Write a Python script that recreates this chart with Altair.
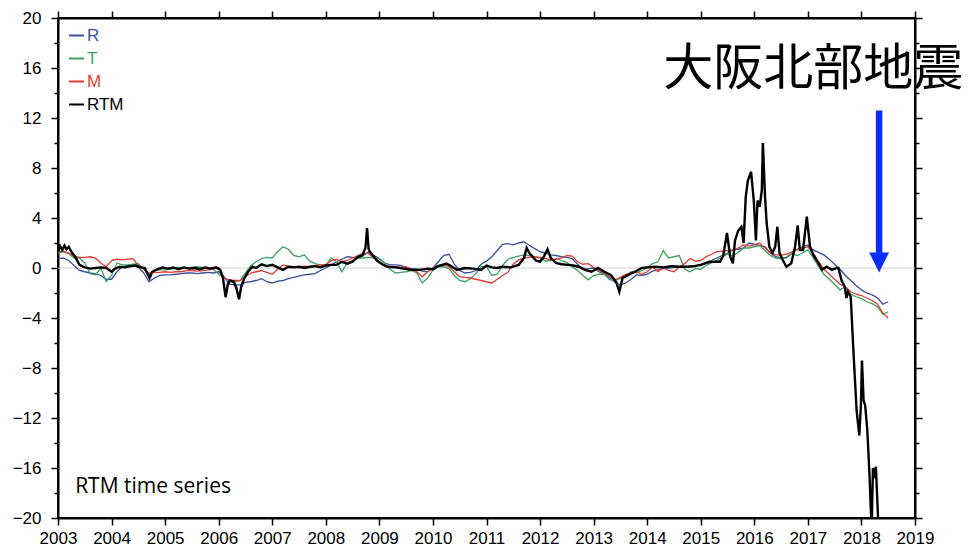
import altair as alt
import pandas as pd

# ---- data -----------------------------------------------------------------
# R, T and M components sampled every 0.1 year from 2003.0 to 2018.5
grid = [round(2003 + 0.1 * i, 1) for i in range(156)]

r_vals = [
    0.75, 0.8, 0.6, 0.2, -0.2, -0.3, -0.4, -0.45, -0.6, -0.9,      # 2003
    -0.9, -0.3, 0.1, 0.2, 0.25, 0.05, -0.4, -1.1, -0.8, -0.6,       # 2004
    -0.55, -0.55, -0.5, -0.45, -0.4, -0.4, -0.45, -0.4, -0.35, -0.4,  # 2005
    -0.3, -0.7, -1.3, -1.35, -1.35, -1.15, -1.1, -1.0, -0.85, -1.1,   # 2006
    -1.2, -1.05, -1.0, -0.85, -0.75, -0.65, -0.55, -0.5, -0.45, -0.2,  # 2007
    0.0, 0.25, 0.5, 0.7, 0.9, 0.85, 0.75, 1.0, 1.3, 1.0,            # 2008
    0.75, 0.4, 0.25, 0.25, 0.2, 0.05, -0.05, -0.1, -0.25, -0.3,     # 2009
    0.0, 0.5, 1.0, 1.1, 0.3, -0.2, -0.4, -0.35, -0.2, 0.3,          # 2010
    0.55, 0.9, 1.4, 1.9, 1.95, 1.85, 2.0, 2.1, 1.8, 1.55,           # 2011
    1.3, 1.2, 1.05, 1.0, 0.9, 0.85, 0.75, 0.3, -0.1, -0.05,         # 2012
    0.0, -0.3, -0.5, -0.8, -1.15, -1.35, -1.2, -0.9, -0.55, -0.6,   # 2013
    -0.5, -0.25, -0.15, -0.05, 0.0, 0.05, 0.1, 0.1, 0.15, 0.2,      # 2014
    0.25, 0.45, 0.6, 0.8, 1.0, 1.2, 1.45, 1.5, 1.6, 2.0,            # 2015
    1.9, 1.8, 1.7, 1.2, 0.9, 0.8, 0.85, 1.2, 1.5, 1.7,              # 2016
    1.85, 1.45, 1.25, 1.05, 0.7, 0.3, -0.1, -0.6, -1.0, -1.4,       # 2017
    -1.75, -2.0, -2.15, -2.4, -2.9, -2.7,                           # 2018
]

t_vals = [
    1.2, 1.3, 1.15, 0.8, 0.8, 0.4, -0.45, -0.55, 0.0, -1.1,         # 2003
    -0.6, 0.4, 0.25, 0.25, 0.3, 0.35, -0.1, -0.55, -0.2, -0.15,     # 2004
    -0.15, -0.1, 0.0, 0.05, 0.0, 0.05, 0.1, 0.05, 0.0, -0.1,        # 2005
    -0.5, -0.8, -1.0, -1.1, -1.0, -0.4, 0.2, 0.5, 0.75, 0.85,       # 2006
    0.8, 1.3, 1.7, 1.5, 1.0, 0.9, 1.05, 0.55, 0.35, 0.25,           # 2007
    0.2, 0.8, 0.5, -0.3, 0.4, 0.6, 0.8, 0.8, 0.85, 0.8,             # 2008
    0.75, 0.35, -0.1, -0.4, -0.35, -0.3, -0.2, -0.4, -1.2, -0.8,    # 2009
    -0.15, 0.1, 0.1, -0.05, -0.6, -1.0, -1.1, -0.85, -0.45, 0.1,    # 2010
    0.1, -0.6, -0.5, 0.2, 0.7, 0.85, 0.95, 1.05, 1.0, 0.9,          # 2011
    0.8, 0.55, 0.6, 0.75, 0.6, 0.45, 0.1, -0.2, -0.6, -0.95,        # 2012
    -0.6, -0.5, -0.5, -0.95, -0.95, -0.85, -0.6, -0.3, -0.4, -0.2,  # 2013
    0.0, 0.35, 0.5, 1.4, 0.8, 0.9, 1.0, -0.1, -0.3, -0.05,          # 2014
    -0.1, 0.2, 0.4, 0.6, 0.9, 1.1, 0.95, 1.25, 1.6, 1.6,            # 2015
    1.7, 1.8, 1.4, 1.0, 0.8, 0.75, 0.8, 1.15, 1.0, 1.2,             # 2016
    1.45, 0.8, 0.1, -0.5, -0.9, -1.3, -1.75, -1.5, -2.1, -2.3,      # 2017
    -2.45, -2.7, -2.85, -3.1, -3.7, -3.5,                           # 2018
]

m_vals = [
    1.3, 1.35, 1.2, 0.95, 0.85, 0.85, 0.9, 0.8, 0.4, 0.1,           # 2003
    0.6, 0.7, 0.65, 0.7, 0.75, 0.2, -0.1, -0.4, -0.35, -0.35,       # 2004
    -0.3, -0.35, -0.3, -0.3, -0.2, -0.2, -0.25, -0.2, -0.15, -0.1,  # 2005
    0.05, -0.8, -0.95, -1.0, -1.0, -0.7, -0.4, -0.3, -0.2, -0.35,   # 2006
    -0.5, -0.1, 0.25, 0.15, 0.1, 0.1, 0.15, 0.1, 0.2, 0.25,         # 2007
    0.25, 0.6, 0.7, 0.5, 0.6, 0.8, 1.0, 1.2, 1.15, 0.8,             # 2008
    0.5, 0.2, 0.1, 0.1, 0.05, 0.1, -0.15, -0.3, -0.7, -0.3,         # 2009
    0.0, 0.2, 0.25, 0.1, -0.3, -0.7, -0.75, -0.8, -0.9, -1.0,       # 2010
    -1.1, -1.2, -0.9, -0.6, -0.35, 0.3, 0.65, 0.8, 0.85, 0.9,       # 2011
    0.85, 0.75, 0.65, 0.7, 0.8, 1.0, 0.95, 0.5, 0.3, 0.35,          # 2012
    0.05, -0.2, -0.4, -0.7, -0.95, -0.75, -0.5, -0.4, -0.3, -0.5,   # 2013
    -0.3, 0.1, -0.3, 0.0, -0.2, -0.3, 0.1, 0.35, 0.75, 0.55,        # 2014
    0.6, 0.9, 1.1, 1.3, 1.35, 1.4, 1.45, 1.6, 1.85, 1.75,           # 2015
    1.85, 2.0, 1.6, 1.2, 1.05, 1.05, 1.1, 1.3, 1.45, 1.6,           # 2016
    1.7, 1.2, 0.5, -0.1, -0.5, -0.9, -1.3, -1.5, -1.9, -2.1,        # 2017
    -2.2, -2.4, -2.6, -2.9, -3.6, -4.0,                             # 2018
]

# combined RTM index, sampled more densely around its spikes
rtm_years = [
    2003.0, 2003.04, 2003.08, 2003.12, 2003.16, 2003.2, 2003.25, 2003.32, 2003.4, 2003.5,
    2003.6, 2003.7, 2003.8, 2003.9, 2004.0, 2004.05, 2004.15, 2004.25, 2004.35, 2004.45,
    2004.55, 2004.62, 2004.67, 2004.71, 2004.76, 2004.85, 2004.95, 2005.05, 2005.15, 2005.25,
    2005.35, 2005.45, 2005.55, 2005.65, 2005.75, 2005.85, 2005.95, 2006.03, 2006.08, 2006.13,
    2006.17, 2006.21, 2006.28, 2006.33, 2006.38, 2006.42, 2006.48, 2006.55, 2006.63, 2006.7,
    2006.8, 2006.9, 2007.0, 2007.1, 2007.2, 2007.3, 2007.4, 2007.5, 2007.6, 2007.7,
    2007.8, 2007.9, 2008.0, 2008.1, 2008.2, 2008.3, 2008.4, 2008.5, 2008.6, 2008.68,
    2008.74, 2008.77, 2008.8, 2008.84, 2008.9, 2008.95, 2009.05, 2009.15, 2009.3, 2009.45,
    2009.6, 2009.75, 2009.9, 2010.0, 2010.1, 2010.25, 2010.32, 2010.45, 2010.6, 2010.75,
    2010.9, 2011.0, 2011.1, 2011.2, 2011.3, 2011.45, 2011.6, 2011.7, 2011.75, 2011.8,
    2011.86, 2011.92, 2012.0, 2012.07, 2012.14, 2012.2, 2012.3, 2012.4, 2012.52, 2012.62,
    2012.72, 2012.84, 2012.96, 2013.08, 2013.2, 2013.32, 2013.42, 2013.48, 2013.54, 2013.65,
    2013.77, 2013.9, 2014.0, 2014.15, 2014.3, 2014.45, 2014.6, 2014.75, 2014.9, 2015.0,
    2015.17, 2015.36, 2015.42, 2015.49, 2015.55, 2015.6, 2015.64, 2015.7, 2015.76, 2015.8,
    2015.84, 2015.88, 2015.94, 2015.99, 2016.03, 2016.06, 2016.1, 2016.14, 2016.16, 2016.2,
    2016.23, 2016.28, 2016.34, 2016.39, 2016.43, 2016.47, 2016.53, 2016.6, 2016.69, 2016.76,
    2016.81, 2016.85, 2016.91, 2016.98, 2017.04, 2017.1, 2017.2, 2017.26, 2017.35, 2017.45,
    2017.54, 2017.57, 2017.63, 2017.69, 2017.72, 2017.75, 2017.8, 2017.85, 2017.91, 2017.96,
    2017.99, 2018.01, 2018.04, 2018.07, 2018.11, 2018.15, 2018.19, 2018.215, 2018.24, 2018.27,
    2018.32, 2018.4, 2018.48,
]
rtm_vals = [
    1.3, 1.75, 1.45, 1.8, 1.5, 1.7, 1.3, 0.9, 0.25, 0.05,
    -0.05, 0.0, 0.05, 0.0, -0.3, -0.1, 0.1, 0.05, 0.15, 0.2,
    0.05, 0.0, -0.45, -0.8, -0.3, -0.1, 0.05, -0.05, 0.05, -0.1,
    0.05, -0.05, 0.0, -0.1, 0.05, -0.05, 0.05, -0.15, -0.8, -2.35,
    -1.3, -1.0, -1.1, -1.6, -2.5, -1.5, -0.8, -0.3, 0.1, 0.0,
    0.3, 0.15, 0.25, 0.05, -0.15, 0.1, 0.05, 0.1, 0.0, 0.1,
    0.15, 0.05, 0.2, 0.25, 0.25, 0.5, 0.35, 0.5, 0.9, 1.0,
    1.6, 3.2, 1.5, 1.2, 0.9, 0.6, 0.3, 0.1, 0.05, -0.05,
    -0.15, -0.15, -0.05, -0.1, 0.15, 0.35, 0.2, -0.15, 0.0, -0.05,
    -0.15, 0.2, 0.05, 0.0, 0.1, 0.05, 0.25, 0.8, 1.6, 1.2,
    0.9, 0.6, 0.5, 0.9, 1.5, 0.8, 0.4, 0.3, 0.25, 0.2,
    0.1, -0.15, -0.3, 0.0, -0.3, -0.55, -1.1, -1.9, -0.8, -0.55,
    -0.3, 0.0, 0.05, 0.1, 0.05, 0.15, 0.1, 0.1, 0.15, 0.25,
    0.5, 0.5, 1.0, 2.8, 0.9, 0.37, 2.2, 3.0, 3.3, 2.0,
    5.7, 7.0, 7.7, 5.4, 2.2, 5.4, 4.9, 6.2, 10.0, 5.7,
    3.6, 1.7, 1.2, 1.7, 3.3, 1.2, 0.64, 0.1, 0.37, 1.7,
    3.4, 1.44, 1.44, 4.1, 1.7, 1.04, 0.37, -0.15, 0.1, -0.15,
    0.0, 0.0, -1.0, -1.5, -2.4, -1.9, -2.3, -6.6, -11.4, -13.4,
    -11.0, -7.4, -10.6, -11.0, -13.0, -16.5, -21.0, -16.0, -16.8, -15.9,
    -21.0, -23.0, -24.0,
]

series_names = ["R", "T", "M", "RTM"]
series_colors = ["#3b4f9f", "#3aa35e", "#e33c37", "#000000"]

# earthquake marker (arrow) and caption
quake_label = "大阪北部地震"
quake_year = 2018.33
arrow_top = 12.6
arrow_base = 1.0
arrow_head = 0.45

panel_label = "RTM time series"

# ---- frames -----------------------------------------------------------------
comp_rows = []
for name, vals in (("R", r_vals), ("T", t_vals), ("M", m_vals)):
    for yr, v in zip(grid, vals):
        comp_rows.append({"year": yr, "value": v, "series": name})
comp_df = pd.DataFrame(comp_rows)
rtm_df = pd.DataFrame({"year": rtm_years, "value": rtm_vals, "series": "RTM"})
arrow_df = pd.DataFrame({"year": [quake_year], "top": [arrow_top], "base": [arrow_base], "head": [arrow_head]})
quake_df = pd.DataFrame({"year": [2017.1], "value": [15.84], "label": [quake_label]})
panel_df = pd.DataFrame({"year": [2003.32], "value": [-17.5], "label": [panel_label]})
zero_df = pd.DataFrame({"value": [0]})

# ---- scales and axes --------------------------------------------------------
x_scale = alt.Scale(domain=[2003, 2019], nice=False, zero=False)
y_scale = alt.Scale(domain=[-20, 20], nice=False, zero=False)
color_scale = alt.Scale(domain=series_names, range=series_colors)

x_ticks = [2003 + 0.5 * i for i in range(33)]
y_ticks = list(range(-20, 21, 2))
major_x = "datum.value % 1 === 0"
major_y = "datum.value % 4 === 0"

AXIS_FONT = "Liberation Sans"


def make_axis(orient, values, major, labels, pad):
    return alt.Axis(
        orient=orient,
        values=values,
        labels=labels,
        format="d",
        # typographic minus sign on negative labels
        labelExpr=f"{major} ? replace(datum.label, '-', '−') : ''",
        labelFlush=False,
        labelOverlap=False,
        labelFont=AXIS_FONT,
        labelFontSize=17,
        labelColor="black",
        labelPadding=pad,
        tickSize={"condition": {"test": major, "value": 7}, "value": 4},
        tickColor="black",
        tickWidth=1.5,
        domainColor="black",
        domainWidth=2,
        grid=False,
        title=None,
    )


legend = alt.Legend(
    title=None,
    orient="none",
    legendX=10,
    legendY=9,
    padding=0,
    symbolType="stroke",
    symbolSize=225,
    symbolStrokeWidth=2,
    labelFont=AXIS_FONT,
    labelFontSize=17,
    labelOffset=2,
    rowPadding=5,
    labelColor=alt.ExprRef("scale('color', datum.value)"),
)

# ---- layers -----------------------------------------------------------------
zero_line = alt.Chart(zero_df).mark_rule(color="#d0d0d0", strokeWidth=1).encode(
    y=alt.Y("value:Q", scale=y_scale, axis=None)
)

comp_lines = alt.Chart(comp_df).mark_line(strokeWidth=1.3, clip=True).encode(
    x=alt.X("year:Q", scale=x_scale, axis=make_axis("bottom", x_ticks, major_x, True, 5)),
    y=alt.Y("value:Q", scale=y_scale, axis=make_axis("left", y_ticks, major_y, True, 10)),
    color=alt.Color("series:N", scale=color_scale, legend=legend),
    detail="series:N",
)

rtm_line = alt.Chart(rtm_df).mark_line(strokeWidth=2.4, clip=True).encode(
    x=alt.X("year:Q", scale=x_scale, axis=None),
    y=alt.Y("value:Q", scale=y_scale, axis=None),
    color=alt.Color("series:N", scale=color_scale, legend=legend),
)

arrow_shaft = alt.Chart(arrow_df).mark_rule(color="#0a2dff", strokeWidth=6.5).encode(
    x=alt.X("year:Q", scale=x_scale, axis=make_axis("top", x_ticks, major_x, False, 6)),
    y=alt.Y("top:Q", scale=y_scale, axis=make_axis("right", y_ticks, major_y, False, 7)),
    y2="base:Q",
)

arrow_tip = alt.Chart(arrow_df).mark_point(
    shape="M-1,-1L1,-1L0,1Z", size=400, filled=True, color="#0a2dff", opacity=1
).encode(
    x=alt.X("year:Q", scale=x_scale, axis=None),
    y=alt.Y("head:Q", scale=y_scale, axis=None),
)

quake_text = alt.Chart(quake_df).mark_text(
    font="Noto Sans CJK JP", fontSize=50, align="center", baseline="middle", color="black"
).encode(
    x=alt.X("year:Q", scale=x_scale, axis=None),
    y=alt.Y("value:Q", scale=y_scale, axis=None),
    text="label:N",
)

panel_text = alt.Chart(panel_df).mark_text(
    font="Open Sans", fontSize=21, align="left", baseline="middle", color="black"
).encode(
    x=alt.X("year:Q", scale=x_scale, axis=None),
    y=alt.Y("value:Q", scale=y_scale, axis=None),
    text="label:N",
)

chart = (
    alt.layer(zero_line, comp_lines, rtm_line, arrow_shaft, arrow_tip, quake_text, panel_text)
    .resolve_axis(x="independent", y="independent")
    .properties(
        width=857,
        height=500,
        autosize=alt.AutoSizeParams(type="none"),
        padding={"left": 58, "top": 18, "right": 54, "bottom": 29},
        background="white",
    )
    .configure_view(stroke="black", strokeWidth=2)
)

chart.save("out.html", embed_options={"renderer": "svg", "actions": False})
